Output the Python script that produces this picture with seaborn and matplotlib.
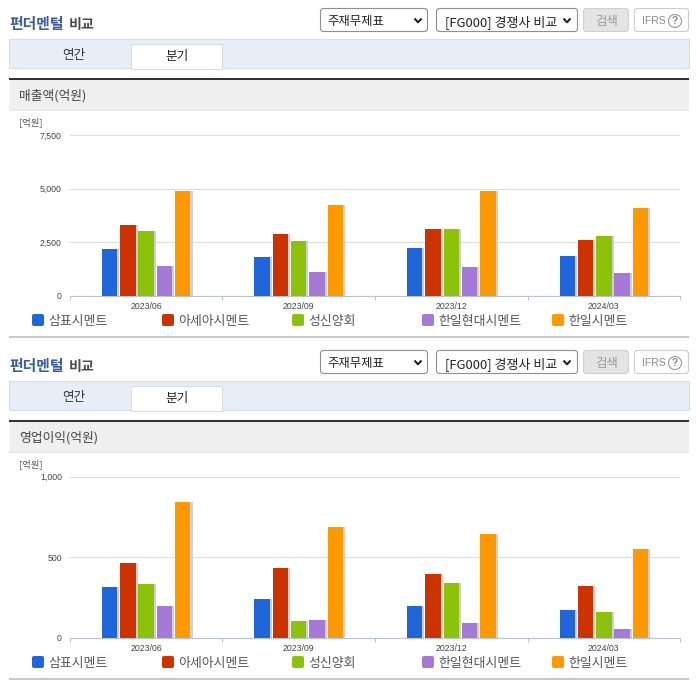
import matplotlib
matplotlib.use("Agg")
import matplotlib.pyplot as plt
import matplotlib.patheffects as pe
from matplotlib.patches import FancyBboxPatch, Rectangle, Circle
from matplotlib.ticker import FixedLocator, FuncFormatter
import pandas as pd
import seaborn as sns

periods = ["2023/06", "2023/09", "2023/12", "2024/03"]
companies = ["삼표시멘트", "아세아시멘트", "성신양회", "한일현대시멘트", "한일시멘트"]
colors = ["#1f66db", "#cc3300", "#8cc20a", "#a678d8", "#ff9900"]

sales_sampyo = [2190, 1810, 2230, 1860]
sales_asia = [3310, 2890, 3120, 2610]
sales_sungshin = [3030, 2560, 3120, 2790]
sales_hyundai = [1390, 1110, 1340, 1060]
sales_hanil = [4900, 4250, 4900, 4110]

profit_sampyo = [315, 240, 197, 172]
profit_asia = [464, 433, 395, 321]
profit_sungshin = [333, 104, 340, 159]
profit_hyundai = [197, 110, 91, 54]
profit_hanil = [845, 687, 644, 551]

sales_ticks = [0, 2500, 5000, 7500]
profit_ticks = [0, 500, 1000]

sns.set_theme(style="white")
KR = ["Noto Sans CJK KR", "DejaVu Sans"]
LAT = ["Liberation Sans", "DejaVu Sans"]
plt.rcParams["font.family"] = KR

W, H = 696, 684
fig = plt.figure(figsize=(W / 100, H / 100), dpi=100, facecolor="white")
bg = fig.add_axes([0, 0, 1, 1], zorder=0)
bg.set_xlim(0, W)
bg.set_ylim(H, 0)
bg.axis("off")


def px(s):
    return s * 72 / 100


def rect(x0, y0, x1, y1, fc, ec="none", lw=0.0):
    bg.add_patch(Rectangle((x0, y0), x1 - x0, y1 - y0, fc=fc, ec=ec, lw=lw))


def rbox(x0, y0, x1, y1, fc, ec):
    bg.add_patch(FancyBboxPatch((x0 + 2, y0 + 2), x1 - x0 - 4, y1 - y0 - 4,
                                boxstyle="round,pad=2,rounding_size=3",
                                fc=fc, ec=ec, lw=0.8))


def chevron(cx, cy):
    bg.plot([cx - 3.5, cx, cx + 3.5], [cy - 2, cy + 1.8, cy - 2],
            color="#222222", lw=1.5, solid_capstyle="butt")


def chrome(dy, heading):
    bg.text(9.5, 24.5 + dy, "펀더멘털", color="#3a5ba8", fontsize=px(14.8),
            weight="bold", va="center", ha="left")
    bg.text(68.5, 24.5 + dy, "비교", color="#4a4a4a", fontsize=px(14),
            weight="bold", va="center", ha="left")
    rbox(320.5, 8.5 + dy, 427.5, 31.5 + dy, "white", "#8f8f8f")
    bg.text(327.5, 22 + dy, "주재무제표", color="#222222", fontsize=px(12.4),
            va="center", ha="left")
    chevron(418, 20.5 + dy)
    rbox(436.5, 8.5 + dy, 577.5, 31.5 + dy, "white", "#8f8f8f")
    bg.text(445, 22 + dy, "[FG000] 경쟁사 비교", color="#222222", fontsize=px(13),
            va="center", ha="left")
    chevron(567, 20.5 + dy)
    rbox(583.5, 8.5 + dy, 628.5, 31.5 + dy, "#e4e4e4", "#cfcfcf")
    bg.text(606.5, 21.5 + dy, "검색", color="#9a9a9a", fontsize=px(12.4),
            va="center", ha="center")
    rbox(634.5, 8.5 + dy, 688.5, 31.5 + dy, "white", "#cccccc")
    bg.text(642, 20.5 + dy, "IFRS", color="#8a8a8a", fontsize=px(10.4),
            va="center", ha="left", family=LAT)
    bg.add_patch(Circle((675, 21 + dy), 6.5, fc="white", ec="#999999", lw=0.8))
    bg.text(675, 21.5 + dy, "?", color="#888888", fontsize=px(10), va="center",
            ha="center", family=LAT, weight="bold")

    rect(9, 38.5 + dy, 688.5, 67.5 + dy, "#e8eef8", "#d5dde8", 0.8)
    rect(131, 43.5 + dy, 222, 68.5 + dy, "white", "#d5dde8", 0.8)
    rect(131.5, 66 + dy, 221.5, 69 + dy, "white")
    bg.text(74, 55.5 + dy, "연간", color="#333333", fontsize=px(12.6),
            va="center", ha="center")
    bg.text(177, 56.5 + dy, "분기", color="#222222", fontsize=px(12.6),
            va="center", ha="center")

    rect(9, 78 + dy, 689, 80 + dy, "#333333")
    rect(9, 80 + dy, 689, 110 + dy, "#efefef")
    rect(9, 110 + dy, 689, 111 + dy, "#e4e4e4")
    bg.text(19.5, 96 + dy, heading, color="#444444", fontsize=px(12.8),
            va="center", ha="left")
    bg.text(19.5, 122.5 + dy, "[억원]", color="#555555", fontsize=px(9.4),
            va="center", ha="left")

    for i, (name, col) in enumerate(zip(companies, colors)):
        x0 = 32 + 130 * i
        bg.add_patch(FancyBboxPatch((x0 + 2, 316 + dy), 8, 8,
                                    boxstyle="round,pad=2,rounding_size=2",
                                    fc=col, ec="none"))
        bg.text(x0 + 16.5, 321.5 + dy, name, color="#555555", fontsize=px(12.9),
                va="center", ha="left")
    rect(9, 336 + dy, 689, 338 + dy, "#c8c8c8")


def chart(series, ticks, top_px, bottom_px):
    left, right = 69.9, 680.1
    ax = fig.add_axes([left / W, 1 - bottom_px / H, (right - left) / W,
                       (bottom_px - top_px) / H], zorder=2)
    ax.patch.set_alpha(0)
    df = pd.DataFrame({
        "period": periods * len(companies),
        "company": [c for c in companies for _ in periods],
        "value": [v for s in series for v in s],
    })
    sns.barplot(data=df, x="period", y="value", hue="company", hue_order=companies,
                palette=colors, width=0.6, gap=0.16, saturation=1, legend=False,
                errorbar=None, linewidth=0, ax=ax, zorder=3)
    for bar in ax.patches:
        bar.set_path_effects([
            pe.SimplePatchShadow(offset=(1.5, 0), shadow_rgbFace="#cfcfcf", alpha=1),
            pe.Normal(),
        ])
    ax.set_xlim(-0.5, len(periods) - 0.5)
    ax.set_ylim(ticks[0], ticks[-1])
    ax.set_xlabel("")
    ax.set_ylabel("")
    ax.set_yticks(ticks)
    ax.yaxis.set_major_formatter(FuncFormatter(lambda v, _: f"{int(v):,}"))
    ax.xaxis.set_minor_locator(FixedLocator([i - 0.5 for i in range(len(periods) + 1)]))
    ax.tick_params(axis="x", which="major", length=0, pad=px(6), labelsize=px(8.8),
                   labelcolor="#444444")
    ax.tick_params(axis="x", which="minor", length=px(3.5), width=0.7, color="#b8c4d8",
                   bottom=True)
    ax.tick_params(axis="y", length=0, pad=px(8), labelsize=px(8.8), labelcolor="#444444")
    for lab in ax.get_xticklabels() + ax.get_yticklabels():
        lab.set_family(LAT)
    ax.grid(axis="y", color="#dcdcdc", lw=0.8, zorder=0)
    ax.set_axisbelow(True)
    for side in ("top", "right", "left"):
        ax.spines[side].set_visible(False)
    ax.spines["bottom"].set_color("#b8c4d8")
    ax.spines["bottom"].set_linewidth(0.8)
    return ax


chrome(0, "매출액(억원)")
chrome(342, "영업이익(억원)")
chart([sales_sampyo, sales_asia, sales_sungshin, sales_hyundai, sales_hanil],
      sales_ticks, 135.3, 295.8)
chart([profit_sampyo, profit_asia, profit_sungshin, profit_hyundai, profit_hanil],
      profit_ticks, 476.8, 637.8)

fig.savefig("out.png", dpi=100)
